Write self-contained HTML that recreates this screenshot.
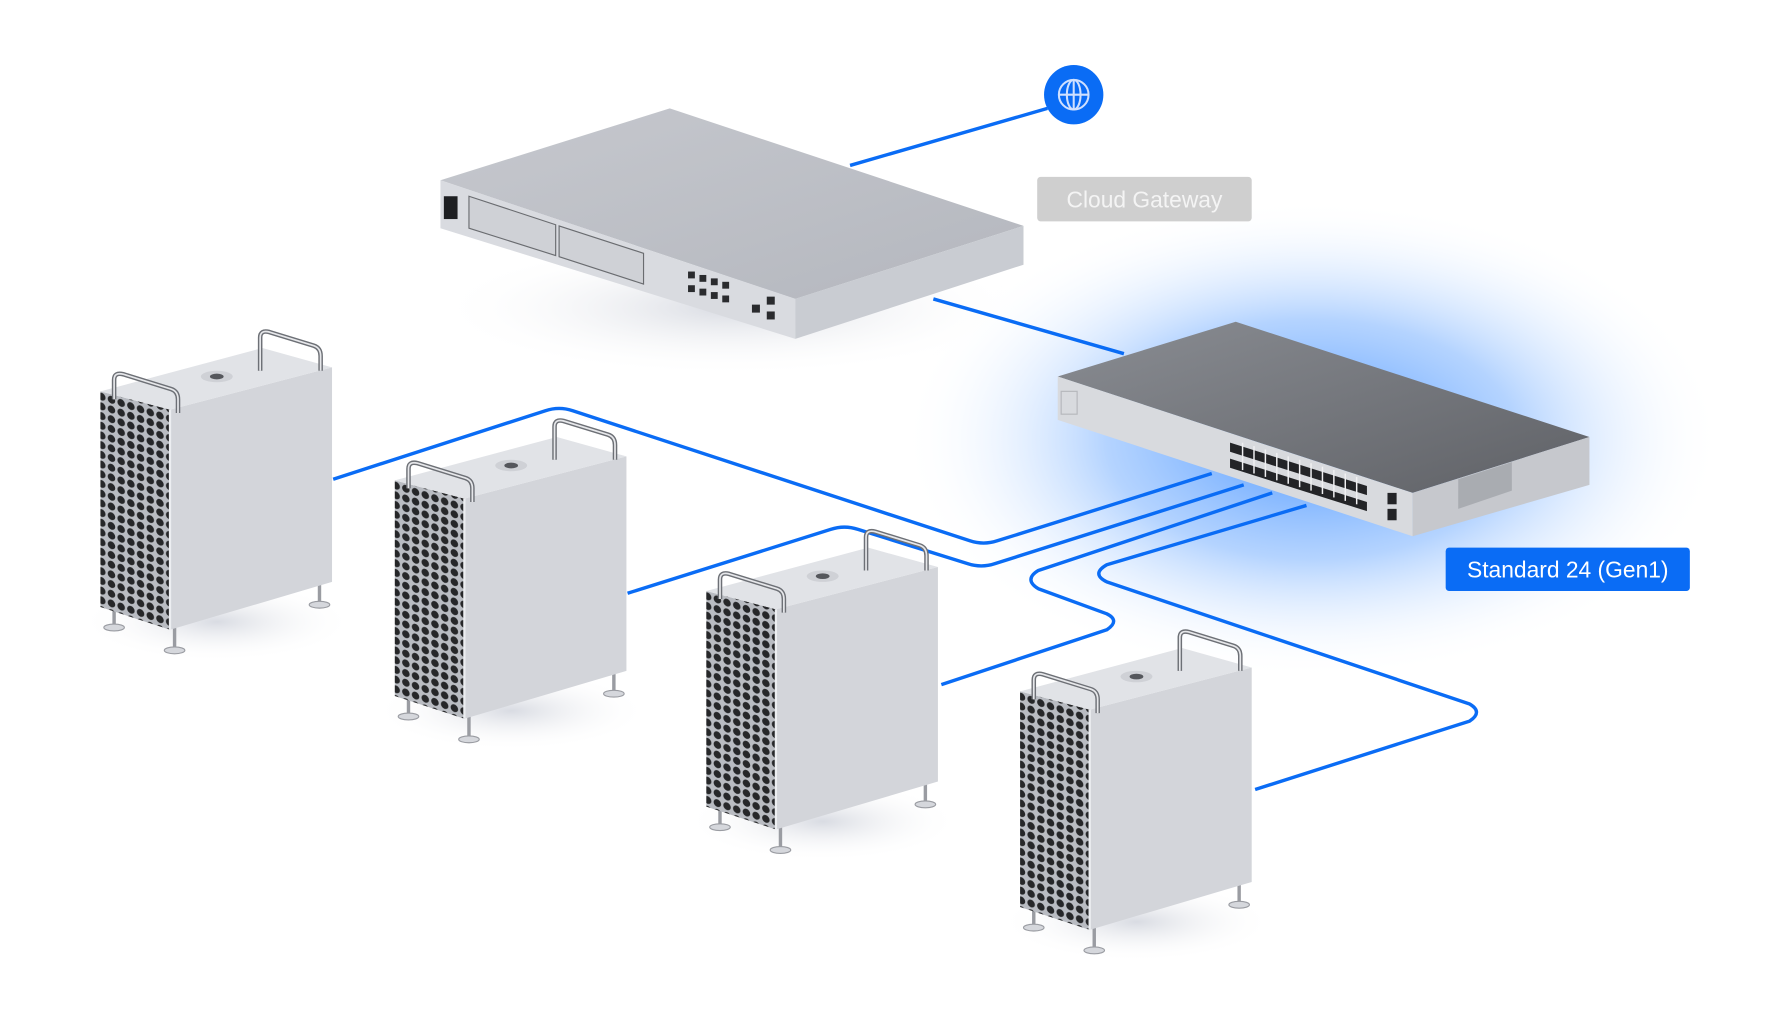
<!DOCTYPE html>
<html><head><meta charset="utf-8"><style>
html,body{margin:0;padding:0;background:#fff;width:1780px;height:1020px;overflow:hidden}
svg{display:block}
</style></head><body>
<svg width="1780" height="1020" viewBox="0 0 1560 894" preserveAspectRatio="none" xmlns="http://www.w3.org/2000/svg">
<defs>
<radialGradient id="glow" cx="0.5" cy="0.5" r="0.5">
<stop offset="0" stop-color="#4f98ff" stop-opacity="1"/>
<stop offset="0.5" stop-color="#8cbcff" stop-opacity="0.65"/>
<stop offset="1" stop-color="#ffffff" stop-opacity="0"/>
</radialGradient>
<radialGradient id="shadow" cx="0.5" cy="0.5" r="0.5">
<stop offset="0" stop-color="#c8ccd6" stop-opacity="0.7"/>
<stop offset="1" stop-color="#ffffff" stop-opacity="0"/>
</radialGradient>
<pattern id="grille" width="8.5" height="8.5" patternUnits="userSpaceOnUse" patternTransform="skewY(18)">
<rect width="8.5" height="8.5" fill="#b9bcc2"/>
<circle cx="4.2" cy="4.2" r="3.3" fill="#262729"/>
</pattern>
<linearGradient id="swtop" x1="0" y1="0" x2="1" y2="1">
<stop offset="0" stop-color="#8a8d93"/><stop offset="1" stop-color="#5f6166"/>
</linearGradient>
<linearGradient id="gwtop" x1="0" y1="0" x2="1" y2="1">
<stop offset="0" stop-color="#c6c8ce"/><stop offset="1" stop-color="#b4b7be"/>
</linearGradient>
<g id="mac">
<ellipse cx="190" cy="545" rx="120" ry="35" fill="url(#shadow)"/>
<g stroke="#9a9ca2" stroke-width="3">
<line x1="100" y1="528" x2="100" y2="548"/><line x1="153" y1="548" x2="153" y2="568"/><line x1="280" y1="508" x2="280" y2="528"/>
</g>
<g fill="#d5d7dc" stroke="#9a9ca2" stroke-width="1">
<ellipse cx="100" cy="550" rx="9" ry="3"/><ellipse cx="153" cy="570" rx="9" ry="3"/><ellipse cx="280" cy="530" rx="9" ry="3"/>
</g>
<polygon points="88,343 149,359 149,552 88,532" fill="url(#grille)"/>
<polygon points="149,359 291,322 291,510 149,552" fill="#d3d5da"/>
<polygon points="88,343 230,305 291,322 149,359" fill="#e1e3e7"/>
<line x1="149" y1="359" x2="149" y2="552" stroke="#eceef1" stroke-width="2"/>
<ellipse cx="190" cy="330" rx="14" ry="5" fill="#cfd1d6"/>
<ellipse cx="190" cy="330" rx="6" ry="2.5" fill="#55575c"/>
<path d="M100,350 L100,333 Q100,326 108,328 L150,341 Q156,343 156,350 L156,362" fill="none" stroke="#6d7076" stroke-width="4"/>
<path d="M100,350 L100,333 Q100,326 108,328 L150,341 Q156,343 156,350 L156,362" fill="none" stroke="#e6e7ea" stroke-width="1.5"/>
<path d="M228,325 L228,296 Q228,289 236,291 L275,303 Q281,305 281,312 L281,325" fill="none" stroke="#6d7076" stroke-width="4"/>
<path d="M228,325 L228,296 Q228,289 236,291 L275,303 Q281,305 281,312 L281,325" fill="none" stroke="#e6e7ea" stroke-width="1.5"/>
</g>
</defs>

<ellipse cx="1150" cy="385" rx="360" ry="210" fill="url(#glow)"/>
<ellipse cx="640" cy="270" rx="260" ry="60" fill="url(#shadow)"/>

<g fill="none" stroke="#0a6cf5" stroke-width="3" stroke-linejoin="round">
<line x1="918" y1="95" x2="745" y2="145"/>
<line x1="818" y1="262" x2="985" y2="310"/>
<path d="M292,420 L478,360 Q490,356 502,360 L850,474 Q862,478 874,474 L1062,415"/>
<path d="M550,520 L728,464 Q740,460 752,464 L848,494 Q860,498 872,494 L1090,425"/>
<path d="M825,600 L970,552 Q982,544 970,538 L910,516 Q897,508 910,500 L1115,432"/>
<path d="M1100,692 L1288,632 Q1300,624 1288,617 L970,510 Q956,503 970,495 L1145,443"/>
</g>

<circle cx="941" cy="83" r="26" fill="#0a6cf5"/>
<g fill="none" stroke="#cfe0ff" stroke-width="1.8">
<circle cx="941" cy="83" r="13"/>
<ellipse cx="941" cy="83" rx="6" ry="13"/>
<line x1="928" y1="83" x2="954" y2="83"/>
<line x1="941" y1="70" x2="941" y2="96"/>
</g>

<polygon points="386,158 587,95 897,198 697,262" fill="url(#gwtop)"/>
<polygon points="386,158 697,262 697,297 386,200" fill="#d9dbe0"/>
<polygon points="697,262 897,198 897,232 697,297" fill="#c9ccd2"/>
<rect x="389" y="172" width="12" height="20" fill="#1e1f22"/>
<polygon points="411,172 487,197 487,224 411,200" fill="#cfd1d6" stroke="#6a6c70" stroke-width="1"/>
<polygon points="490,198 564,222 564,249 490,225" fill="#cfd1d6" stroke="#6a6c70" stroke-width="1"/>
<g fill="#2a2b2e">
<rect x="603" y="238" width="6" height="6"/><rect x="613" y="241" width="6" height="6"/><rect x="623" y="244" width="6" height="6"/><rect x="633" y="247" width="6" height="6"/>
<rect x="603" y="250" width="6" height="6"/><rect x="613" y="253" width="6" height="6"/><rect x="623" y="256" width="6" height="6"/><rect x="633" y="259" width="6" height="6"/>
<rect x="659" y="267" width="7" height="7"/><rect x="672" y="260" width="7" height="7"/><rect x="672" y="273" width="7" height="7"/>
</g>

<polygon points="927,330 1083,282 1393,383 1238,432" fill="url(#swtop)"/>
<polygon points="927,330 1238,432 1238,470 927,368" fill="#d8dade"/>
<polygon points="1238,432 1393,383 1393,425 1238,470" fill="#c6c8cd"/>
<rect x="930" y="343" width="14" height="20" fill="none" stroke="#b5b7bb" stroke-width="1"/>
<g fill="#232427">
<polygon points="1078,388 1198,426 1198,434 1078,396"/>
<polygon points="1078,402 1198,440 1198,448 1078,410"/>
<rect x="1216" y="432" width="8" height="10"/><rect x="1216" y="446" width="8" height="10"/>
</g>
<g stroke="#f0f0f2" stroke-width="1.3">
<line x1="1089" y1="388" x2="1089" y2="412"/><line x1="1099" y1="391" x2="1099" y2="415"/><line x1="1109" y1="394" x2="1109" y2="418"/><line x1="1119" y1="397" x2="1119" y2="421"/><line x1="1129" y1="400" x2="1129" y2="424"/><line x1="1139" y1="403" x2="1139" y2="427"/><line x1="1149" y1="406" x2="1149" y2="430"/><line x1="1159" y1="409" x2="1159" y2="433"/><line x1="1169" y1="412" x2="1169" y2="436"/><line x1="1179" y1="415" x2="1179" y2="439"/><line x1="1189" y1="418" x2="1189" y2="442"/>
</g>
<polygon points="1278,420 1325,405 1325,430 1278,446" fill="#9d9fa5" opacity="0.7"/>

<use href="#mac"/>
<use href="#mac" transform="translate(258,78)"/>
<use href="#mac" transform="translate(531,175)"/>
<use href="#mac" transform="translate(806,263)"/>

<rect x="909" y="155" width="188" height="39" rx="3" fill="#cfcfcf"/>
<text x="1003" y="182" text-anchor="middle" font-family="Liberation Sans, sans-serif" font-size="20" fill="#f4f4f4">Cloud Gateway</text>
<rect x="1267" y="480" width="214" height="38" rx="3" fill="#0a6cf5"/>
<text x="1374" y="506" text-anchor="middle" font-family="Liberation Sans, sans-serif" font-size="20" fill="#ffffff">Standard 24 (Gen1)</text>
</svg>
</body></html>
